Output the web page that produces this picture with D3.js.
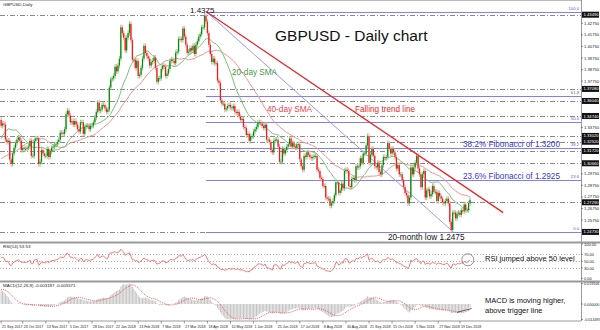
<!DOCTYPE html>
<html>
<head>
<meta charset="utf-8">
<script src="https://cdn.jsdelivr.net/npm/d3@7"></script>
<style>
  html, body { margin: 0; padding: 0; background: #fff; }
  svg { display: block; font-family: "Liberation Sans", Arial, sans-serif; }
</style>
</head>
<body>
<svg id="chart" width="600" height="330"></svg>
<script>
// daily closes before the visible range, only used to warm up the indicators
const warmJul17 = [1.2930, 1.2920, 1.2940, 1.2990, 1.2880, 1.2880, 1.2870, 1.2920, 1.2960, 1.3100, 1.3070, 1.3030, 1.3010, 1.2980, 1.2990, 1.3040, 1.3040, 1.3110, 1.3050, 1.3130, 1.3200];
const warmAug17 = [1.3220, 1.3240, 1.3170, 1.3030, 1.3040, 1.2990, 1.3000, 1.2990, 1.3010, 1.2950, 1.2880, 1.2880, 1.2870, 1.2880, 1.2900, 1.2830, 1.2790, 1.2810, 1.2880, 1.2940, 1.2950, 1.2910, 1.2930];
const warmSep17 = [1.2970, 1.2950, 1.3010, 1.3040, 1.3140, 1.3200, 1.3130, 1.3260, 1.3200, 1.3380, 1.3590, 1.3490, 1.3510, 1.3490, 1.3500, 1.3490, 1.3460, 1.3440];

// visible daily closes
const sep17 = [1.3390, 1.3410, 1.3400];
const oct17 = [1.3270, 1.3250, 1.3260, 1.3100, 1.3060, 1.3150, 1.3200, 1.3240, 1.3270, 1.3290, 1.3260, 1.3180, 1.3200, 1.3190, 1.3190, 1.3200, 1.3210, 1.3260, 1.3130, 1.3130, 1.3260, 1.3280];
const nov17 = [1.3280, 1.3060, 1.3080, 1.3180, 1.3150, 1.3130, 1.3130, 1.3190, 1.3120, 1.3170, 1.3200, 1.3210, 1.3220, 1.3230, 1.3250, 1.3270, 1.3330, 1.3330, 1.3320, 1.3360, 1.3490, 1.3520];
const dec17 = [1.3480, 1.3420, 1.3430, 1.3400, 1.3430, 1.3400, 1.3360, 1.3340, 1.3420, 1.3420, 1.3320, 1.3380, 1.3390, 1.3390, 1.3360, 1.3390, 1.3390, 1.3420, 1.3460, 1.3510];
const jan18 = [1.3590, 1.3520, 1.3530, 1.3570, 1.3570, 1.3540, 1.3510, 1.3530, 1.3720, 1.3790, 1.3800, 1.3820, 1.3900, 1.3860, 1.3910, 1.3970, 1.4240, 1.4190, 1.4150, 1.4040, 1.4150, 1.4190];
const feb18 = [1.4270, 1.4130, 1.3960, 1.3960, 1.3890, 1.3950, 1.3820, 1.3830, 1.3890, 1.3970, 1.4080, 1.4020, 1.3990, 1.3970, 1.3910, 1.3940, 1.3950, 1.3980, 1.3890, 1.3770];
const mar18 = [1.3800, 1.3800, 1.3880, 1.3910, 1.3900, 1.3820, 1.3840, 1.3880, 1.3950, 1.3960, 1.3950, 1.3930, 1.4020, 1.4030, 1.4140, 1.4140, 1.4130, 1.4230, 1.4160, 1.4090, 1.4020, 1.4030];
const apr18 = [1.4060, 1.4040, 1.4080, 1.4010, 1.4090, 1.4120, 1.4160, 1.4180, 1.4240, 1.4240, 1.4340, 1.4290, 1.4190, 1.4090, 1.4010, 1.3940, 1.3970, 1.3930, 1.3930, 1.3780, 1.3760];
const may18 = [1.3610, 1.3580, 1.3580, 1.3530, 1.3540, 1.3560, 1.3570, 1.3550, 1.3540, 1.3560, 1.3510, 1.3500, 1.3510, 1.3470, 1.3440, 1.3450, 1.3380, 1.3370, 1.3310, 1.3320, 1.3260, 1.3300, 1.3300];
const jun18 = [1.3340, 1.3360, 1.3380, 1.3420, 1.3420, 1.3410, 1.3390, 1.3370, 1.3400, 1.3270, 1.3270, 1.3250, 1.3180, 1.3160, 1.3260, 1.3270, 1.3270, 1.3210, 1.3080, 1.3080, 1.3190];
const jul18 = [1.3150, 1.3180, 1.3210, 1.3230, 1.3280, 1.3210, 1.3240, 1.3210, 1.3200, 1.3230, 1.3230, 1.3100, 1.3040, 1.3010, 1.3130, 1.3120, 1.3160, 1.3140, 1.3120, 1.3110, 1.3120, 1.3130];
const aug18 = [1.3130, 1.3010, 1.3000, 1.2940, 1.2930, 1.2870, 1.2870, 1.2770, 1.2760, 1.2760, 1.2700, 1.2720, 1.2740, 1.2790, 1.2900, 1.2900, 1.2810, 1.2830, 1.2890, 1.2850, 1.3000, 1.3010, 1.3000];
const sep18 = [1.2870, 1.2860, 1.2930, 1.2940, 1.2920, 1.3040, 1.3030, 1.3040, 1.3110, 1.3070, 1.3150, 1.3150, 1.3220, 1.3300, 1.3070, 1.3140, 1.3190, 1.3130, 1.3040, 1.3030];
const oct18 = [1.3070, 1.2990, 1.2970, 1.3050, 1.3120, 1.3110, 1.3120, 1.3240, 1.3190, 1.3150, 1.3190, 1.3160, 1.3120, 1.3020, 1.3050, 1.2970, 1.2970, 1.2920, 1.2860, 1.2810, 1.2790, 1.2720, 1.2770];
const nov18 = [1.3030, 1.2970, 1.3030, 1.3070, 1.3130, 1.3020, 1.2970, 1.2860, 1.2970, 1.3000, 1.2770, 1.2830, 1.2840, 1.2780, 1.2800, 1.2870, 1.2820, 1.2820, 1.2740, 1.2810, 1.2780, 1.2760];
const dec18 = [1.2730, 1.2720, 1.2740, 1.2760, 1.2720, 1.2560, 1.2490, 1.2640, 1.2640, 1.2590, 1.2630, 1.2640, 1.2620, 1.2660, 1.2650, 1.2710, 1.2660, 1.2660, 1.2720, 1.2750];

// time axis labels and the bar each one sits on
const dateLabels = ['21 Sep 2017', '23 Oct 2017', '13 Nov 2017', '5 Dec 2017', '28 Dec 2017', '22 Jan 2018', '13 Feb 2018', '7 Mar 2018', '27 Mar 2018', '18 Apr 2018', '10 May 2018', '1 Jun 2018', '25 Jun 2018', '17 Jul 2018', '8 Aug 2018', '30 Aug 2018', '21 Sep 2018', '15 Oct 2018', '5 Nov 2018', '27 Nov 2018', '19 Dec 2018'];
const dateLabelBars = [0, 15, 31, 47, 63, 79, 95, 111, 127, 143, 159, 175, 191, 207, 223, 239, 255, 271, 287, 303, 318];

// price axis
const priceTicks = [1.4275, 1.4175, 1.4075, 1.3975, 1.3875, 1.3775, 1.3675, 1.3575, 1.3475, 1.3375, 1.3275, 1.3175, 1.3075, 1.2975, 1.2875, 1.2775, 1.2675, 1.2575];
const hLevels = [1.4349, 1.3708, 1.3604, 1.3474, 1.3302, 1.3252, 1.3172, 1.3066, 1.2729, 1.2473];

// fibonacci retracement from the April high to the December low
const fibHigh = { bar: 142, price: 1.4375 };
const fibLow = { bar: 313, price: 1.2475 };
const fibRatios = [100, 61.8, 50, 38.2, 23.6, 0];
const fibNames = ['100.0', '61.8', '50.0', '38.2', '23.6', '0.0'];

const trendLine = [[142, 1.4377], [348, 1.2640]];
const channelLine = [[142, 1.4377], [313, 1.2477]];

const rsiTicks = [100, 70, 50, 30, 0];
const rsiLevels = [70, 50, 30];
const rsiCircle = [323.5, 54];
const macdArrow = [[316, -0.0078], [326, -0.0042]];

const warm = [].concat(warmJul17, warmAug17, warmSep17);
const shown = [].concat(sep17, oct17, nov17, dec17, jan18, feb18, mar18, apr18, may18, jun18, jul18, aug18, sep18, oct18, nov18, dec18);
const closes = warm.concat(shown);
const off = warm.length;

// indicators
function sma(arr, n) {
    return arr.map((_, i) => i < n - 1 ? null : d3.mean(arr.slice(i - n + 1, i + 1)));
}
function ema(arr, n) {
    const k = 2 / (n + 1);
    let prev = arr[0];
    return arr.map((v, i) => prev = (i === 0 ? v : v * k + prev * (1 - k)));
}
function rsi(arr, n) {
    const out = arr.map(() => null);
    let g = 0, l = 0;
    for (let i = 1; i <= n; i++) {
        const d = arr[i] - arr[i - 1];
        if (d > 0) g += d; else l -= d;
    }
    g /= n; l /= n;
    out[n] = 100 - 100 / (1 + g / l);
    for (let i = n + 1; i < arr.length; i++) {
        const d = arr[i] - arr[i - 1];
        g = (g * (n - 1) + Math.max(d, 0)) / n;
        l = (l * (n - 1) + Math.max(-d, 0)) / n;
        out[i] = l === 0 ? 100 : 100 - 100 / (1 + g / l);
    }
    return out;
}

const sma20 = sma(closes, 20);
const sma40 = sma(closes, 40);
const rsi14 = rsi(closes, 14);
const e12 = ema(closes, 12), e26 = ema(closes, 26);
const macd = closes.map((_, i) => e12[i] - e26[i]);
const signal = sma(macd, 9);

const bars = shown.map((c, j) => ({
    j: j,
    open: closes[off + j - 1],
    close: c,
    s20: sma20[off + j],
    s40: sma40[off + j],
    rsi: rsi14[off + j],
    macd: macd[off + j],
    sig: signal[off + j]
}));

// the MACD window is scaled to its own min / max, like the terminal does
const macdMax = d3.max(bars, d => Math.max(d.macd, d.sig));
const macdMin = d3.min(bars, d => Math.min(d.macd, d.sig));
const macdTicks = [macdMax, 0, macdMin];

// scales
const axisX = 581;
const x = d3.scaleLinear().domain([-0.77, 401.25]).range([0, 580]);
const yP = d3.scaleLinear().domain([1.2475, 1.4375]).range([231.7, 11.7]);
const yR = d3.scaleLinear().domain([0, 100]).range([278.3, 244]);
const yM = d3.scaleLinear().domain([macdMin, macdMax]).range([319.5, 283.5]);

const svg = d3.select('#chart');
const defs = svg.append('defs');
[['clipMain', 1, 241], ['clipRsi', 243.5, 280], ['clipMacd', 282.5, 320.5]].forEach(c => {
    defs.append('clipPath').attr('id', c[0])
        .append('rect').attr('x', 0).attr('y', c[1]).attr('width', axisX).attr('height', c[2] - c[1]);
});

svg.append('rect').attr('width', 600).attr('height', 330).attr('fill', '#fff');

// ---------- main panel ----------
const main = svg.append('g').attr('clip-path', 'url(#clipMain)');

main.selectAll('line.hl')
    .data(hLevels)
    .enter().append('line')
    .attr('x1', 0).attr('x2', axisX)
    .attr('y1', d => Math.round(yP(d)) + 0.5).attr('y2', d => Math.round(yP(d)) + 0.5)
    .attr('stroke', '#8a8a8a').attr('stroke-width', 1)
    .attr('stroke-dasharray', '5,2,1,2');

const fibLevels = fibRatios.map(r => fibLow.price + r / 100 * (fibHigh.price - fibLow.price));
main.selectAll('line.fib')
    .data(fibLevels)
    .enter().append('line')
    .attr('x1', x(fibHigh.bar)).attr('x2', axisX)
    .attr('y1', d => Math.round(yP(d)) + 0.5).attr('y2', d => Math.round(yP(d)) + 0.5)
    .attr('stroke', '#8080f4').attr('stroke-width', 1);

main.selectAll('text.fibname')
    .data(fibLevels)
    .enter().append('text')
    .attr('x', axisX - 2).attr('y', d => yP(d) - 1.5)
    .attr('text-anchor', 'end')
    .attr('font-size', 4.2).attr('fill', '#5a5ae0')
    .text((d, i) => fibNames[i]);

main.append('line')
    .attr('x1', x(channelLine[0][0])).attr('y1', yP(channelLine[0][1]))
    .attr('x2', x(channelLine[1][0])).attr('y2', yP(channelLine[1][1]))
    .attr('stroke', '#8e8ef0').attr('stroke-width', 0.9);

// moving averages
const lineP = key => d3.line().x(d => x(d.j)).y(d => yP(d[key]));
main.append('path').datum(bars).attr('d', lineP('s40'))
    .attr('fill', 'none').attr('stroke', '#f29090').attr('stroke-width', 1);
main.append('path').datum(bars).attr('d', lineP('s20'))
    .attr('fill', 'none').attr('stroke', '#78c078').attr('stroke-width', 1);

// candles
const wick = 2.6;
const candle = main.selectAll('g.candle')
    .data(bars)
    .enter().append('g');
candle.append('line')
    .attr('x1', d => x(d.j)).attr('x2', d => x(d.j))
    .attr('y1', d => yP(Math.max(d.open, d.close)) - wick)
    .attr('y2', d => yP(Math.min(d.open, d.close)) + wick)
    .attr('stroke', d => d.close >= d.open ? '#7cc87c' : '#f59a9a')
    .attr('stroke-width', 0.9);
candle.append('rect')
    .attr('x', d => x(d.j) - 0.65)
    .attr('width', 1.3)
    .attr('y', d => yP(Math.max(d.open, d.close)))
    .attr('height', d => Math.max(0.8, Math.abs(yP(d.open) - yP(d.close))))
    .attr('fill', d => d.close >= d.open ? '#0f8a0f' : '#ee1c1c');

main.append('line')
    .attr('x1', x(trendLine[0][0])).attr('y1', yP(trendLine[0][1]))
    .attr('x2', x(trendLine[1][0])).attr('y2', yP(trendLine[1][1]))
    .attr('stroke', '#e8262a').attr('stroke-width', 1.3);

// annotations
const note = (tx, ty, size, color, str) => svg.append('text')
    .attr('x', tx).attr('y', ty).attr('font-size', size).attr('fill', color).text(str);
note(3, 6, 4.4, '#222', 'GBPUSD,Daily');
note(190, 13, 8, '#111', '1.4375');
note(275, 41, 15.5, '#111', 'GBPUSD - Daily chart');
note(232, 74.5, 8.2, '#3f9a3f', '20-day SMA');
note(267, 112, 8.2, '#e84545', '40-day SMA');
note(355, 112, 8.2, '#e82a2a', 'Falling trend line');
note(463, 147, 8.2, '#3838d8', '38.2% Fibonacci of 1.3200');
note(463, 179, 8.2, '#3838d8', '23.6% Fibonacci of 1.2925');
note(388, 239.5, 8.2, '#111', '20-month low 1.2475');

// ---------- RSI panel ----------
const rsiG = svg.append('g').attr('clip-path', 'url(#clipRsi)');
rsiG.selectAll('line.lvl')
    .data(rsiLevels)
    .enter().append('line')
    .attr('x1', 0).attr('x2', axisX)
    .attr('y1', d => Math.round(yR(d)) + 0.5).attr('y2', d => Math.round(yR(d)) + 0.5)
    .attr('stroke', '#b0b0b0').attr('stroke-dasharray', '1,2');
rsiG.append('path').datum(bars)
    .attr('d', d3.line().x(d => x(d.j)).y(d => yR(d.rsi)))
    .attr('fill', 'none').attr('stroke', '#f06a6a').attr('stroke-width', 0.9);
svg.append('circle')
    .attr('cx', x(rsiCircle[0])).attr('cy', yR(rsiCircle[1])).attr('r', 6)
    .attr('fill', 'none').attr('stroke', '#777').attr('stroke-width', 0.8);
note(3, 248, 4.4, '#222', 'RSI(14) 53.53');
note(485, 261, 7.5, '#111', 'RSI jumped above 50 level');

// ---------- MACD panel ----------
const macdG = svg.append('g').attr('clip-path', 'url(#clipMacd)');
macdG.selectAll('rect.h')
    .data(bars)
    .enter().append('rect')
    .attr('x', d => x(d.j) - 0.5)
    .attr('width', 1)
    .attr('y', d => yM(Math.max(0, d.macd)))
    .attr('height', d => Math.abs(yM(d.macd) - yM(0)))
    .attr('fill', '#c4c4c4');
macdG.append('path').datum(bars)
    .attr('d', d3.line().x(d => x(d.j)).y(d => yM(d.sig)))
    .attr('fill', 'none').attr('stroke', '#f24a4a').attr('stroke-width', 0.9)
    .attr('stroke-dasharray', '1,1');
macdG.append('line')
    .attr('x1', x(macdArrow[0][0])).attr('y1', yM(macdArrow[0][1]))
    .attr('x2', x(macdArrow[1][0])).attr('y2', yM(macdArrow[1][1]))
    .attr('stroke', '#444').attr('stroke-width', 0.9);
note(3, 286.5, 4.4, '#222', 'MACD(12,26,9) -0.003187 -0.005571');
note(485, 303, 7.5, '#111', 'MACD is moving higher,');
note(485, 312.5, 7.5, '#111', 'above trigger line');

// ---------- frame and axes ----------
svg.append('line').attr('x1', 0).attr('x2', 600).attr('y1', 242.5).attr('y2', 242.5)
    .attr('stroke', '#9a9a9a').attr('stroke-width', 2);
svg.append('line').attr('x1', 0).attr('x2', 600).attr('y1', 281.5).attr('y2', 281.5)
    .attr('stroke', '#9a9a9a').attr('stroke-width', 2);
svg.append('line').attr('x1', 0).attr('x2', axisX).attr('y1', 321).attr('y2', 321)
    .attr('stroke', '#9a9a9a').attr('stroke-width', 1);
svg.append('line').attr('x1', 0).attr('x2', axisX).attr('y1', 0.5).attr('y2', 0.5)
    .attr('stroke', '#bbb').attr('stroke-width', 1);
svg.append('line').attr('x1', axisX + 0.5).attr('x2', axisX + 0.5).attr('y1', 0).attr('y2', 321)
    .attr('stroke', '#9a9a9a').attr('stroke-width', 1);

const tickLabel = (g, ticks, scale, fmt, size) => {
    g.selectAll('line').data(ticks).enter().append('line')
        .attr('x1', axisX).attr('x2', axisX + 2)
        .attr('y1', d => scale(d)).attr('y2', d => scale(d))
        .attr('stroke', '#555').attr('stroke-width', 0.6);
    g.selectAll('text').data(ticks).enter().append('text')
        .attr('x', axisX + 3).attr('y', d => scale(d) + 1.5)
        .attr('font-size', size).attr('fill', '#222')
        .text(fmt);
};
// price labels hidden behind a level box are left out
const freeTicks = priceTicks.filter(t => hLevels.every(h => Math.abs(yP(t) - yP(h)) > 5));
tickLabel(svg.append('g'), freeTicks, yP, d => d.toFixed(5), 4.2);
tickLabel(svg.append('g'), rsiTicks, yR, d => d.toFixed(2), 4);
tickLabel(svg.append('g'), macdTicks, yM, d => d.toFixed(6), 3.7);

const boxes = svg.append('g').selectAll('g').data(hLevels).enter().append('g');
boxes.append('rect')
    .attr('x', axisX + 1).attr('y', d => yP(d) - 3)
    .attr('width', 17).attr('height', 6).attr('fill', '#111');
boxes.append('text')
    .attr('x', axisX + 2.5).attr('y', d => yP(d) + 1.5)
    .attr('font-size', 4.2).attr('fill', '#fff')
    .text(d => d.toFixed(5));

const dates = svg.append('g').selectAll('g').data(dateLabels).enter().append('g');
dates.append('line')
    .attr('x1', (d, i) => x(dateLabelBars[i])).attr('x2', (d, i) => x(dateLabelBars[i]))
    .attr('y1', 321).attr('y2', 323.5)
    .attr('stroke', '#555').attr('stroke-width', 0.6);
dates.append('text')
    .attr('x', (d, i) => Math.max(1, x(dateLabelBars[i]) + 1))
    .attr('y', 327.5)
    .attr('font-size', 3.6).attr('fill', '#222')
    .text(d => d);
</script>
</body>
</html>
